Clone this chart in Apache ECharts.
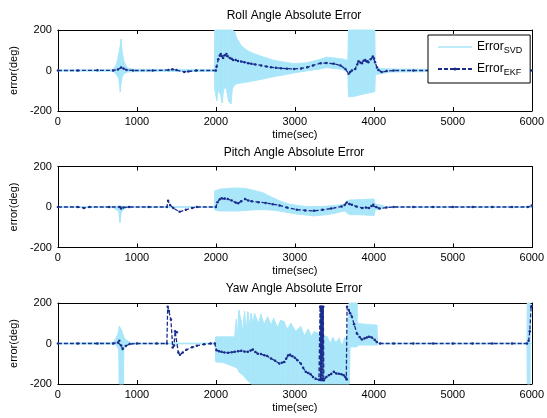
<!DOCTYPE html>
<html><head><meta charset="utf-8">
<script src="https://cdn.jsdelivr.net/npm/echarts@6/dist/echarts.min.js"></script>
<style>html,body{margin:0;padding:0;background:#fff}#c{width:547px;height:418px}</style>
</head><body><div id="c"></div>
<script>
const titles = ['Roll Angle Absolute Error', 'Pitch Angle Absolute Error', 'Yaw Angle Absolute Error'];
const xLabel = 'time(sec)';
const yLabel = 'error(deg)';
const xMin = 0, xMax = 6000, xStep = 1000;
const yMin = -200, yMax = 200, yStep = 200;
const seriesNames = ['SVD', 'EKF'];

// SVD error: [time, lower envelope, upper envelope] of the fast oscillation
const rollSvd = [
  [0,-3,3],[700,-4,4],[740,-20,30],[770,-40,80],[790,-106,120],[800,-60,155],[815,-30,90],[840,-15,40],
  [880,-8,12],[950,-6,6],[1400,-5,5],[1980,-5,5],[1990,-100,200],[2010,-150,200],[2030,-95,200],
  [2060,-120,200],[2080,-160,200],[2100,-90,200],[2130,-85,200],[2160,-150,200],[2190,-165,200],
  [2210,-90,200],[2240,-70,190],[2260,-66,164],[2320,-62,123],[2400,-57,98],[2490,-50,82],[2610,-41,66],
  [2740,-30,50],[2860,-22,42],[2990,-12,34],[3150,-2,38],[3320,8,55],[3400,14,66],[3500,10,62],
  [3600,6,57],[3670,-10,50],[3680,-130,200],[3750,-128,200],[3850,-118,200],[3950,-110,200],
  [4010,-105,200],[4020,-20,16],[4100,-16,10],[4200,-8,8],[4650,-6,6],[4700,-3,3],[6000,-3,3]
];
const rollEkf = [
  [0,0],[250,0],[500,1],[700,0],[760,5],[800,15],[830,10],[870,3],[950,0],[1200,0],[1400,2],[1450,6],
  [1500,2],[1600,-7],[1650,-5],[1750,0],[2000,0],[2010,20],[2030,55],[2050,74],[2062,82],[2080,70],
  [2092,62],[2110,75],[2134,82],[2150,70],[2176,62],[2200,58],[2218,52],[2250,52],[2280,47],[2320,44],
  [2364,41],[2410,36],[2448,33],[2500,30],[2573,25],[2640,20],[2699,16],[2760,13],[2824,11],[2900,9],
  [2991,8],[3080,10],[3158,16],[3230,25],[3326,36],[3400,37],[3493,33],[3577,25],[3640,8],[3681,-16],
  [3700,-8],[3723,0],[3765,8],[3790,30],[3807,46],[3830,40],[3849,36],[3870,48],[3891,52],[3910,45],
  [3932,41],[3960,55],[3987,69],[4000,60],[4016,41],[4040,15],[4058,3],[4100,-8],[4163,-3],[4250,0],
  [4500,0],[4750,0],[5000,0],[5250,0],[5500,0],[5750,0],[6000,0]
];

const pitchSvd = [
  [0,-2,2],[700,-2,2],[720,-10,3],[770,-20,5],[785,-76,5],[800,-30,5],[830,-12,3],[880,-3,2],
  [1980,-2,2],[1990,-15,80],[2050,-20,88],[2150,-20,92],[2250,-20,94],[2370,-18,92],[2450,-15,85],
  [2590,-13,71],[2700,-15,50],[2806,-20,31],[2920,-28,15],[3024,-35,8],[3150,-40,3],[3242,-44,2],
  [3350,-40,3],[3460,-35,6],[3600,-22,12],[3640,-20,15],[3660,-30,30],[3700,-38,35],[3800,-38,36],
  [3900,-40,38],[4000,-42,40],[4020,-14,14],[4110,-8,8],[4130,-2,2],[6000,-2,2]
];
const pitchEkf = [
  [0,0],[250,0],[330,-5],[400,0],[650,0],[780,0],[800,-8],[830,-2],[900,0],[1150,0],[1380,0],[1395,31],
  [1420,10],[1460,-5],[1540,-24],[1620,-14],[1700,-5],[1760,0],[2000,0],[2020,24],[2050,38],[2073,43],
  [2110,42],[2150,39],[2200,32],[2250,22],[2282,19],[2320,28],[2370,39],[2410,32],[2457,28],[2540,24],
  [2631,20],[2720,14],[2806,8],[2900,-3],[3024,-13],[3130,-17],[3242,-19],[3350,-14],[3460,-8],
  [3592,3],[3630,10],[3657,22],[3690,15],[3722,11],[3780,2],[3853,-5],[3900,-3],[3940,-5],[3970,5],
  [3993,11],[4030,0],[4072,-8],[4159,-3],[4250,0],[4500,0],[4750,0],[5000,0],[5250,0],[5500,0],
  [5750,0],[5950,0],[6000,8]
];

const yawSvd = [
  [0,-2,2],[700,-3,5],[740,-8,30],[770,-30,60],[778,-200,85],[800,-200,70],[830,-200,40],[835,-20,30],
  [870,-8,15],[920,-4,5],[1000,-2,2],[1990,-2,2],[2000,-91,33],[2100,-95,33],[2238,-116,33],
  [2260,-120,120],[2275,-125,40],[2290,-140,165],[2322,-150,110],[2340,-155,60],[2363,-165,160],
  [2385,-175,70],[2405,-185,157],[2425,-190,90],[2447,-200,150],[2470,-200,95],[2489,-200,149],
  [2540,-200,100],[2570,-200,145],[2610,-200,95],[2656,-200,132],[2700,-200,90],[2730,-200,125],
  [2780,-200,80],[2820,-200,115],[2866,-200,107],[2900,-200,70],[2950,-200,100],[3010,-200,60],
  [3075,-200,83],[3120,-200,40],[3170,-200,72],[3210,-200,35],[3242,-200,58],[3305,-200,50],
  [3360,-200,40],[3410,-200,33],[3450,-200,0],[3480,-200,30],[3520,-200,5],[3560,-200,25],
  [3600,-200,-10],[3630,-200,28],[3661,-200,25],[3690,-200,200],[3700,-17,200],
  [3786,-17,200],[3790,-8,99],[3900,-8,95],[4037,-8,91],[4050,-3,5],[4100,-2,2],[5940,-2,2],
  [5945,-200,200],[5975,-200,200],[5980,-2,2],[6000,-2,2]
];
const yawEkf = [
  [0,0],[250,0],[500,0],[700,0],[760,5],[777,13],[800,-10],[820,-27],[860,-12],[908,-3],[1000,0],
  [1250,0],[1380,0],[1390,182],[1405,160],[1431,118],[1453,-20],[1470,-10],[1484,60],[1506,55],
  [1525,-45],[1545,-56],[1580,-45],[1628,-31],[1700,-18],[1759,-11],[1850,-4],[1933,0],[1987,0],
  [2008,-33],[2040,-38],[2071,-41],[2110,-45],[2155,-46],[2200,-43],[2238,-41],[2280,-38],[2322,-36],
  [2360,-40],[2405,-41],[2440,-35],[2468,-30],[2500,-42],[2531,-50],[2570,-52],[2615,-58],[2650,-62],
  [2698,-74],[2750,-85],[2803,-99],[2835,-95],[2866,-91],[2890,-75],[2916,-58],[2940,-55],[2970,-63],
  [3000,-70],[3033,-83],[3075,-99],[3105,-120],[3138,-140],[3170,-146],[3200,-152],[3230,-165],
  [3263,-174],[3305,-179],[3317,-179],[3320,182],[3325,-180],[3330,182],[3335,-180],[3340,182],
  [3345,-180],[3350,182],[3355,-180],[3360,182],[3367,-182],[3400,-165],[3430,-157],[3460,-150],
  [3493,-140],[3525,-148],[3556,-149],[3590,-152],[3619,-157],[3640,-165],[3652,-174],[3658,-178],
  [3661,182],[3681,165],[3700,150],[3723,132],[3750,95],[3786,50],[3820,32],[3849,20],[3880,25],
  [3912,30],[3940,33],[3974,30],[4010,18],[4037,8],[4079,0],[4250,0],[4500,0],[4750,0],[5000,0],
  [5250,0],[5500,0],[5750,0],[5940,0],[5960,13],[5975,60],[5992,182],[6000,185]
];

const svdSets = [rollSvd, pitchSvd, yawSvd];
const ekfSets = [rollEkf, pitchEkf, yawEkf];

const SVD_COLOR = '#a9e6f9';
const EKF_COLOR = '#1b2d8c';
const FONT = '"Liberation Sans", Arial, Helvetica, sans-serif';
const gridTops = [30, 166.5, 303];
const gridH = 81;

function bandRender(rows) {
  return function (params, api) {
    const i = params.dataIndex;
    if (i >= rows.length - 1) return null;
    const r0 = rows[i], r1 = rows[i + 1];
    const pts = [
      api.coord([r0[0], r0[2]]), api.coord([r1[0], r1[2]]),
      api.coord([r1[0], r1[1]]), api.coord([r0[0], r0[1]])
    ];
    return { type: 'polygon', shape: { points: pts },
      style: { fill: SVD_COLOR, stroke: SVD_COLOR, lineWidth: 0.9 } };
  };
}

const plain = function (v) { return String(v); };
const grids = [], xAxes = [], yAxes = [], series = [], titleOpts = [];
const tickStyle = { show: true, inside: true, length: 4, lineStyle: { color: '#000', width: 1 } };
const axLine = { show: true, onZero: false, lineStyle: { color: '#000', width: 1 } };
for (let k = 0; k < 3; k++) {
  grids.push({ left: 55, right: 14, top: gridTops[k], height: gridH });
  xAxes.push({ gridIndex: k, type: 'value', min: xMin, max: xMax, interval: xStep, position: 'bottom',
    axisLine: axLine, axisTick: tickStyle, splitLine: { show: false },
    axisLabel: { color: '#000', fontSize: 11, fontFamily: FONT, margin: 5, formatter: plain },
    name: xLabel, nameLocation: 'middle', nameGap: 18,
    nameTextStyle: { color: '#000', fontSize: 11, fontFamily: FONT } });
  xAxes.push({ gridIndex: k, type: 'value', min: xMin, max: xMax, interval: xStep, position: 'top',
    axisLine: axLine, axisTick: tickStyle, splitLine: { show: false },
    axisLabel: { show: false } });
  yAxes.push({ gridIndex: k, type: 'value', min: yMin, max: yMax, interval: yStep, position: 'left',
    axisLine: axLine, axisTick: tickStyle, splitLine: { show: false },
    axisLabel: { color: '#000', fontSize: 11, fontFamily: FONT, margin: 6, formatter: plain },
    name: yLabel, nameLocation: 'middle', nameGap: 36,
    nameTextStyle: { color: '#000', fontSize: 11, fontFamily: FONT } });
  yAxes.push({ gridIndex: k, type: 'value', min: yMin, max: yMax, interval: yStep, position: 'right',
    axisLine: axLine, axisTick: tickStyle, splitLine: { show: false },
    axisLabel: { show: false } });
  series.push({ name: seriesNames[0], type: 'custom', xAxisIndex: 2 * k, yAxisIndex: 2 * k,
    renderItem: bandRender(svdSets[k]), data: svdSets[k], encode: { x: 0, y: [1, 2] },
    itemStyle: { color: SVD_COLOR }, z: 2, silent: true });
  series.push({ name: seriesNames[1], type: 'line', xAxisIndex: 2 * k, yAxisIndex: 2 * k,
    data: ekfSets[k], showSymbol: true, showAllSymbol: true, symbol: 'circle', symbolSize: 2.5,
    itemStyle: { color: EKF_COLOR }, lineStyle: { color: EKF_COLOR, width: 1.3, type: [4, 2] },
    z: 3, silent: true });
  titleOpts.push({ text: titles[k], left: 294, top: gridTops[k] - 20, textAlign: 'center', padding: 0,
    textStyle: { color: '#000', fontSize: 12, fontWeight: 'normal', fontFamily: FONT } });
}

const chart = echarts.init(document.getElementById('c'), null, { renderer: 'canvas' });
chart.setOption({
  backgroundColor: '#fff',
  animation: false,
  title: titleOpts,
  grid: grids,
  xAxis: xAxes,
  yAxis: yAxes,
  legend: {
    left: 428, top: 35, orient: 'vertical', padding: [6, 8, 6, 9], itemGap: 8,
    itemWidth: 34, itemHeight: 4, borderColor: '#000', borderWidth: 1, backgroundColor: '#fff',
    symbolKeepAspect: true, selectedMode: false,
    data: [
      { name: seriesNames[0], icon: 'path://M0,0H40V1.6H0Z', itemStyle: { color: SVD_COLOR } },
      { name: seriesNames[1] }
    ],
    formatter: function (n) { return 'Error{s|' + n + '}'; },
    textStyle: { color: '#000', fontSize: 12, fontFamily: FONT,
      rich: { s: { fontSize: 9, fontFamily: FONT, color: '#000', verticalAlign: 'bottom', padding: [7, 0, 0, 0] } } }
  },
  series: series
});
</script></body></html>
